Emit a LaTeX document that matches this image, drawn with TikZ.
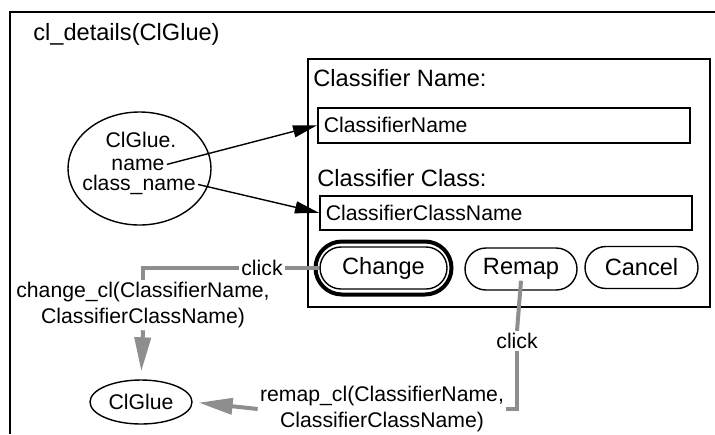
\documentclass[tikz,border=0pt]{standalone}
\usepackage{fontspec}
\setmainfont{Liberation Sans}
\usetikzlibrary{arrows.meta,positioning,calc,shapes.geometric,shapes.misc}
\definecolor{ink}{HTML}{000000}
\definecolor{halftone}{HTML}{8E8E8E}
\newcommand{\lblbig}{\fontsize{11.8}{14}\selectfont}
\newcommand{\lblsmall}{\fontsize{10.6}{13}\selectfont}
\tikzset{
  frame/.style={draw=ink,line width=1pt},
  field/.style={draw=ink,line width=.8pt,minimum height=17.5pt,text width=180pt,
    inner xsep=3pt,inner ysep=0pt,anchor=north west,font=\lblsmall},
  button/.style={rounded rectangle,draw=ink,line width=.7pt,minimum height=21pt,
    inner sep=0pt,font=\lblbig},
  ring/.style={rounded rectangle,draw=ink,line width=2pt,minimum width=68pt,
    minimum height=26.5pt,inner sep=0pt},
  oval/.style={ellipse,draw=ink,line width=.7pt,inner sep=0pt},
  word/.style={font=\lblsmall,inner sep=1pt},
  caption/.style={font=\lblsmall,align=center,inner sep=1pt},
  bind/.style={-{Triangle[length=12pt,width=6pt]},line width=.7pt,draw=ink},
  link/.style={line width=2pt,draw=halftone},
  linkto/.style={link,-{Triangle[length=17pt,width=8pt]}},
}

\begin{document}
\begin{tikzpicture}[x=0.5pt,y=-0.5pt]
  \useasboundingbox (0,0) rectangle (715,434);
  \draw[frame] (715,12) -- (10,12) -- (10,434);
  \node[anchor=west,font=\lblbig,inner sep=0pt] (title) at (33,34) {cl\_details(ClGlue)};

  \node[frame,minimum width=201pt,minimum height=124pt,anchor=north west,inner sep=0pt]
    (dialog) at (307,58) {};
  \node[anchor=west,font=\lblbig,inner sep=0pt] (namelbl) at (313,78) {Classifier Name:};
  \node[field] (namefield) at (317,107) {ClassifierName};
  \node[anchor=west,font=\lblbig,inner sep=0pt] (classlbl) at (317,178) {Classifier Class:};
  \node[field,minimum height=17pt] (classfield) at (319,195) {ClassifierClassName};

  \node[button,minimum width=63.5pt] (change) at (383.5,268) {Change};
  \node[ring] (changering) at (change) {};
  \node[button,minimum width=56pt] (remap) at (521,269) {Remap};
  \node[button,minimum width=56.5pt] (cancel) at (641.5,267.5) {Cancel};

  \node[oval,minimum width=71.5pt,minimum height=56.5pt] (attrs) at (139.5,168.5) {};
  \node[word,anchor=base] (gluedot) at (141,147) {ClGlue.};
  \node[word,anchor=base] (gluename) at (138,170) {name};
  \node[word,anchor=base] (glueclass) at (139,190) {class\_name};
  \draw[bind] (gluename.east) -- (namefield.west);
  \draw[bind] (glueclass.east) -- (classfield.west);

  \node[word] (clickchange) at (262,268) {click};
  \node[caption] (changecl) at (143,305) {change\_cl(ClassifierName,\\ClassifierClassName)};
  \node[oval,minimum width=51pt,minimum height=22pt,font=\lblsmall] (glue) at (141,402) {ClGlue};
  \draw[link] (change.west) -- (clickchange.east);
  \draw[link] (clickchange.west) -| (changecl.north);
  \draw[linkto,shorten >=4pt] (changecl.south) -- (glue.north);

  \node[word] (clickremap) at (517,341) {click};
  \node[caption] (remapcl) at (382,409) {remap\_cl(ClassifierName,\\ClassifierClassName)};
  \draw[link] ([yshift=5pt]remap.south) -- (clickremap.north);
  \draw[link] (clickremap.south) |- (remapcl.east);
  \draw[linkto,shorten >=3pt] (remapcl.west) -- (glue.east);
\end{tikzpicture}
\end{document}
